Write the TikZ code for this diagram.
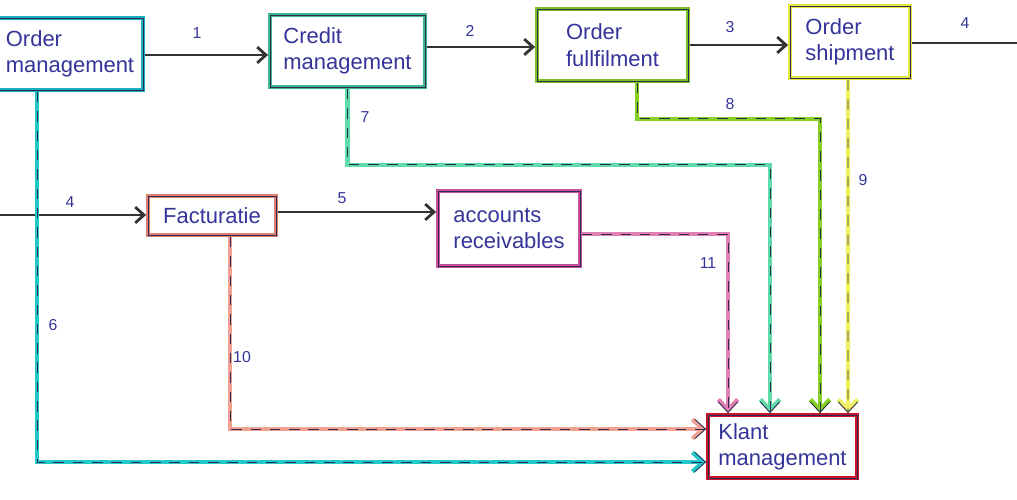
\documentclass[tikz,border=0pt]{standalone}
\usepackage{fontspec}
\setmainfont{Liberation Sans}
\usetikzlibrary{arrows.meta}
\definecolor{inkline}{HTML}{2B2B55}
\definecolor{inktext}{HTML}{34349A}
\definecolor{cOrder}{HTML}{1AAFC0}
\definecolor{cCredit}{HTML}{3DB88A}
\definecolor{cFulfil}{HTML}{7CC520}
\definecolor{cShip}{HTML}{E6E640}
\definecolor{cFactuur}{HTML}{E08070}
\definecolor{cAccounts}{HTML}{C8509A}
\definecolor{cKlant}{HTML}{C81428}
\definecolor{lOrder}{HTML}{22C8C8}
\definecolor{lCredit}{HTML}{5FDCAA}
\definecolor{lFulfil}{HTML}{86D024}
\definecolor{lShip}{HTML}{F0F060}
\definecolor{lFactuur}{HTML}{F0A090}
\definecolor{lAccounts}{HTML}{E080B0}
\tikzset{
  procbox/.style={draw=#1, line width=2.2pt, fill=white, align=left,
    text=inktext, font=\fontsize{12.5}{15}\selectfont,
    postaction={draw=inkline, line width=0.5pt}},
  flow/.style={draw=black!80, line width=1.6pt, -{Straight Barb[length=5pt,width=9pt]}},
  infolink/.style={draw=#1, line width=2.4pt, -{Straight Barb[length=6pt,width=11pt]},
    postaction={draw=inkline, line width=0.5pt, dash pattern=on 6pt off 5pt}},
  numlabel/.style={text=inktext, font=\small}
}
\begin{document}
\begin{tikzpicture}[x=0.02cm, y=-0.02cm]
                \useasboundingbox (0,0) rectangle (1017,500);
                
                % Drawing the process boxes
                \node [procbox=cOrder, minimum width=2.92cm, minimum height=1.44cm] (om) at (70,54) {Order\\management};%
                \node [procbox=cCredit, minimum width=3.10cm, minimum height=1.44cm] (cm) at (347.5,51) {Credit\\management};%
                \node [procbox=cFulfil, minimum width=3.02cm, minimum height=1.44cm] (of) at (612.5,45) {Order\\fullfilment};%
                \node [procbox=cShip, minimum width=2.40cm, minimum height=1.44cm] (os) at (850,42) {Order\\shipment};%
                \node [procbox=cFactuur, minimum width=2.56cm, minimum height=0.78cm] (fa) at (212,215.5) {Facturatie};%
                \node [procbox=cAccounts, minimum width=2.84cm, minimum height=1.50cm] (ar) at (509,228.5) {accounts\\receivables};%
                \node [procbox=cKlant, minimum width=2.98cm, minimum height=1.26cm] (km) at (782.5,446.5) {Klant\\management};%
                
                % Free ends of the flows 4
                \coordinate (out4) at (1017,43);%
                \coordinate (in4) at (0,215);%
                
                % Drawing the flows 1 - 5
                \draw [flow] (om.east |- 0,55) -- (cm.west |- 0,55);%
                \draw [flow] (cm.east |- 0,47) -- (of.west |- 0,47);%
                \draw [flow] (of.east |- 0,45) -- (os.west |- 0,45);%
                \draw [flow, -] (os.east |- out4) -- (out4);%
                \draw [flow] (in4) -- (fa.west |- in4);%
                \draw [flow] (fa.east |- 0,212) -- (ar.west |- 0,212);%
                
                % Drawing the links 6 - 11
                \draw [infolink=lOrder] ([xshift=-0.66cm]om.south) |- ([yshift=-0.31cm]km.west);%
                \draw [infolink=lCredit] (cm.south) -- ++(0,76) -| ([xshift=-0.25cm]km.north);%
                \draw [infolink=lFulfil] ([xshift=0.49cm]of.south) -- ++(0,36) -| ([xshift=0.75cm]km.north);%
                \draw [infolink=lShip] ([xshift=-0.04cm]os.south) -- ([xshift=1.31cm]km.north);%
                \draw [infolink=lFactuur] ([xshift=0.36cm]fa.south) |- ([yshift=0.35cm]km.west);%
                \draw [infolink=lAccounts] ([yshift=-0.11cm]ar.east) -| ([xshift=-1.09cm]km.north);%
                
                % Marking the numbers
                \node [numlabel] (n1) at (197,33) {1};%
                \node [numlabel] (n2) at (470,31) {2};%
                \node [numlabel] (n3) at (730,27) {3};%
                \node [numlabel] (n4a) at (965,23) {4};%
                \node [numlabel] (n4b) at (70,202) {4};%
                \node [numlabel] (n5) at (342,198) {5};%
                \node [numlabel] (n6) at (53,325) {6};%
                \node [numlabel] (n7) at (365,117) {7};%
                \node [numlabel] (n8) at (730,104) {8};%
                \node [numlabel] (n9) at (863,180) {9};%
                \node [numlabel] (n10) at (242,357) {10};%
                \node [numlabel] (n11) at (708,263) {11};%
\end{tikzpicture}
\end{document}
